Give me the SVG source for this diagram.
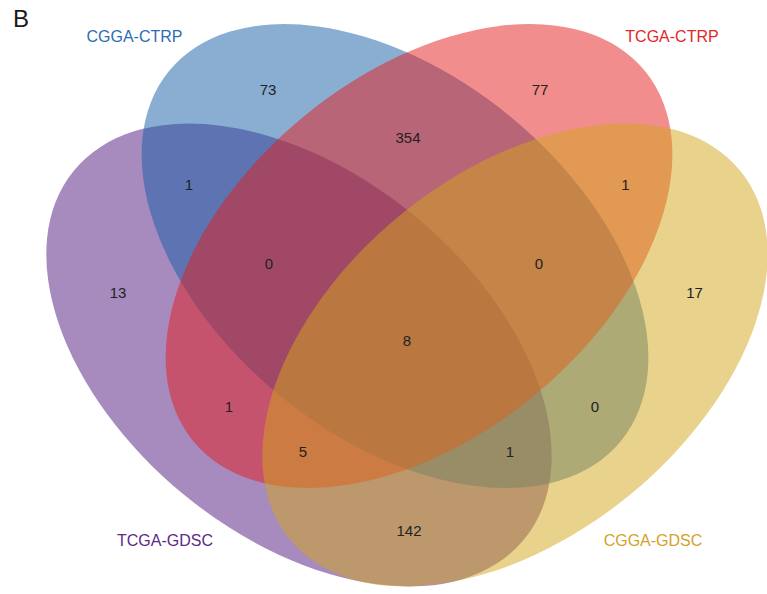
<svg xmlns="http://www.w3.org/2000/svg" width="767" height="594" viewBox="0 0 767 594">
<style>
.set{fill-opacity:0.5;stroke:none}
.cat{font-family:"Liberation Sans",Arial,sans-serif;font-size:16px;text-anchor:middle}
.n{font-family:"Liberation Sans",Arial,sans-serif;font-size:15px;fill:#222;text-anchor:middle}
</style>
<rect width="767" height="594" fill="#fff"/>
<text x="13" y="27" font-family="Liberation Sans, Arial, sans-serif" font-size="24" fill="#1a1a1a">B</text>
<g id="set-tcga-gdsc">
<ellipse class="set" cx="299" cy="355" rx="291" ry="181" transform="rotate(39.3 299 355)" fill="#4f177f"/>
<text class="cat" x="165" y="546" fill="#5b2a86">TCGA-GDSC</text>
</g>
<g id="set-cgga-ctrp">
<ellipse class="set" cx="395" cy="256" rx="292" ry="181" transform="rotate(39.3 395 256)" fill="#155da5"/>
<text class="cat" x="134.5" y="42" fill="#2a6db5">CGGA-CTRP</text>
</g>
<g id="set-tcga-ctrp">
<ellipse class="set" cx="419" cy="256" rx="292" ry="181" transform="rotate(-39.3 419 256)" fill="#e51b1b"/>
<text class="cat" x="672" y="42" fill="#e3262b">TCGA-CTRP</text>
</g>
<g id="set-cgga-gdsc">
<ellipse class="set" cx="515" cy="355" rx="291" ry="181" transform="rotate(-39.3 515 355)" fill="#d1a519"/>
<text class="cat" x="653" y="546" fill="#d4a22a">CGGA-GDSC</text>
</g>
<g id="connectors"></g>
<g id="counts">
<text class="n" x="268" y="95">73</text>
<text class="n" x="540" y="95">77</text>
<text class="n" x="408" y="143">354</text>
<text class="n" x="189" y="190">1</text>
<text class="n" x="625.5" y="190">1</text>
<text class="n" x="269" y="269">0</text>
<text class="n" x="539" y="269">0</text>
<text class="n" x="118" y="298">13</text>
<text class="n" x="694.5" y="298">17</text>
<text class="n" x="407" y="346">8</text>
<text class="n" x="229" y="412">1</text>
<text class="n" x="595" y="412">0</text>
<text class="n" x="303" y="457">5</text>
<text class="n" x="510" y="457">1</text>
<text class="n" x="409" y="536">142</text>
</g>
</svg>
